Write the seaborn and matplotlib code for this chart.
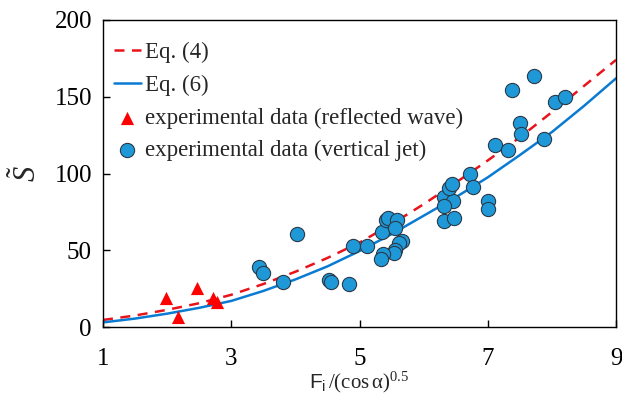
import numpy as np
import pandas as pd
import seaborn as sns
import matplotlib.pyplot as plt

# model curves
curve_x = [1, 1.5, 2, 2.5, 3, 3.5, 4, 4.5, 5, 5.5, 6, 6.5, 7, 7.5, 8, 8.5, 9]
eq4_y = [4.6, 7.5, 11.2, 15.5, 21, 28, 36, 45, 55, 67, 80, 94, 108.5, 123.5, 140, 157, 174]
eq6_y = [3, 5.5, 8.7, 12.5, 17, 23.5, 31, 39.5, 49.5, 60.5, 72.5, 84.5, 97.5, 112, 127, 144, 162]

# experimental data (reflected wave)
wave_x = [1.99, 2.17, 2.46, 2.71, 2.78]
wave_y = [19.1, 6.7, 25.2, 18.7, 16.5]

# experimental data (vertical jet)
jet_x = [3.44, 3.50, 3.80, 4.03, 4.53, 4.55, 4.84, 4.90, 5.11, 5.35, 5.41, 5.45, 5.58,
         5.55, 5.66, 5.62, 5.56, 5.53, 5.37, 5.34, 6.32, 6.46, 6.32, 6.39, 6.44, 6.31,
         6.48, 6.73, 6.77, 7.00, 7.01, 7.11, 7.32, 7.51, 7.52, 7.38, 7.72, 7.88, 8.05, 8.20]
jet_y = [39.3, 35.4, 29.5, 60.6, 30.8, 29.5, 28.3, 52.8, 52.8, 61.9, 69.7, 70.8, 69.7,
         64.7, 56.0, 54.9, 50.2, 48.0, 47.6, 44.3, 84.9, 82.3, 79.0, 90.8, 93.0, 68.9,
         71.0, 99.7, 91.4, 82.3, 76.9, 118.4, 115.3, 132.7, 125.7, 154.4, 163.5, 122.5, 146.4, 149.6]

curves = pd.DataFrame({'x': curve_x, 'eq4': eq4_y, 'eq6': eq6_y})

sns.set_style('ticks')
plt.rcParams['font.family'] = ['Liberation Serif', 'DejaVu Serif']
plt.rcParams['mathtext.fontset'] = 'custom'
plt.rcParams['mathtext.rm'] = 'Liberation Serif'
plt.rcParams['mathtext.it'] = 'Liberation Serif:italic'
plt.rcParams['mathtext.sf'] = 'Liberation Sans'

fig = plt.figure(figsize=(6.22, 3.96), dpi=100)
ax = fig.add_axes([0.1656, 0.1742, 0.8248, 0.7753])

sns.lineplot(data=curves, x='x', y='eq4', ax=ax, color='#e8141c', linestyle=(0, (4, 3)),
             linewidth=1.8, label='Eq. (4)')
sns.lineplot(data=curves, x='x', y='eq6', ax=ax, color='#0a7bd2', linewidth=1.8, label='Eq. (6)')
sns.scatterplot(x=wave_x, y=wave_y, ax=ax, marker='^', color='#ff0000', s=90, linewidth=0,
                label='experimental data (reflected wave)', zorder=3)
sns.scatterplot(x=jet_x, y=jet_y, ax=ax, marker='o', color='#1e98d6', edgecolor='#2a3a4a',
                s=105, linewidth=0.8, label='experimental data (vertical jet)', zorder=3)

ax.set_xlim(1, 9)
ax.set_ylim(0, 200)
ax.set_xticks([1, 3, 5, 7, 9])
ax.set_yticks([0, 50, 100, 150, 200])
ax.tick_params(direction='in', labelsize=18, length=5, width=1, colors='black')
ax.tick_params(axis='x', pad=15)
ax.tick_params(axis='y', pad=8)
for s in ax.spines.values():
    s.set_visible(True)
    s.set_linewidth(1)
    s.set_color('black')

ax.set_xlabel(r'$\mathsf{F}_\mathsf{i}\,/\mathrm{(cos\,α)}^{0.5}$', fontsize=15, labelpad=0)
ax.set_ylabel(r'$\tilde{S}$', fontsize=22, labelpad=8)

ax.legend(loc='upper left', bbox_to_anchor=(0.004, 0.958), frameon=False, fontsize=16.5,
          handlelength=1.15, handletextpad=0.2, labelspacing=0.5, borderaxespad=0)

plt.savefig('out.png', dpi=100)
